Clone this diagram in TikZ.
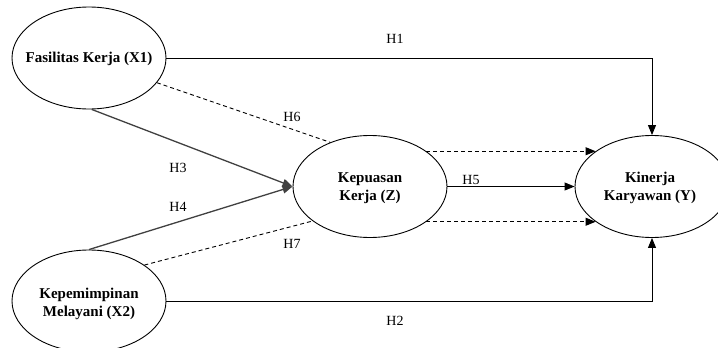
\documentclass[tikz,border=0pt]{standalone}
\usepackage{fontspec}
\setmainfont{Liberation Serif}
\usetikzlibrary{arrows.meta,shapes.geometric}
\begin{document}
\begin{tikzpicture}[x=1pt,y=-1pt,
  var/.style={draw, ellipse, line width=0.9pt, minimum width=154pt, minimum height=102pt, inner sep=0pt},
  vartext/.style={font=\fontsize{15}{18.5}\selectfont\bfseries, align=center},
  hyp/.style={font=\fontsize{14}{16}\selectfont, inner sep=0pt},
  link/.style={line width=0.9pt, -{Triangle[length=10pt,width=8pt]}},
  mainlink/.style={link, line width=1.3pt, draw=black!75},
  indirect/.style={line width=0.9pt, dash pattern=on 4pt off 3pt},
  indlink/.style={indirect, -{Triangle[length=10pt,width=8pt]}}]
\useasboundingbox (0,0) rectangle (718,348);
\clip (0,0) rectangle (718,348);

% latent variables
\node[var] (x1) at (89,58) {};
\node[vartext] at (89,59) {Fasilitas Kerja (X1)};
\node[var] (x2) at (89,301) {};
\node[vartext] at (89,304) {Kepemimpinan\\Melayani (X2)};
\node[var] (z) at (370,186.5) {};
\node[vartext] at (370,188) {Kepuasan\\Kerja (Z)};
\node[var] (y) at (652,186.5) {};
\node[vartext] at (650,188) {Kinerja\\Karyawan (Y)};

% direct effects
\draw[link] (x1) -- (x1 -| y) -- (y);
\draw[link] (x2) -- (x2 -| y) -- (y);
\draw[mainlink] (x1.-87) -- (z.west);
\draw[mainlink] (x2.north) -- (z.west);
\draw[link] (z) -- (y);

% mediated effects
\draw[indirect] (x1.-20) -- (z.132);
\draw[indirect] (x2.33) -- (z.211);
\draw[indlink] (z.32) -- (y.148);
\draw[indlink] (z.-32) -- (y.212);

% hypothesis labels
\node[hyp] (h1) at (395,39) {H1};
\node[hyp] (h2) at (395,321) {H2};
\node[hyp] (h3) at (178,168) {H3};
\node[hyp] (h4) at (178,207) {H4};
\node[hyp] (h5) at (471,180) {H5};
\node[hyp] (h6) at (292,117) {H6};
\node[hyp] (h7) at (292,244) {H7};
\end{tikzpicture}
\end{document}
